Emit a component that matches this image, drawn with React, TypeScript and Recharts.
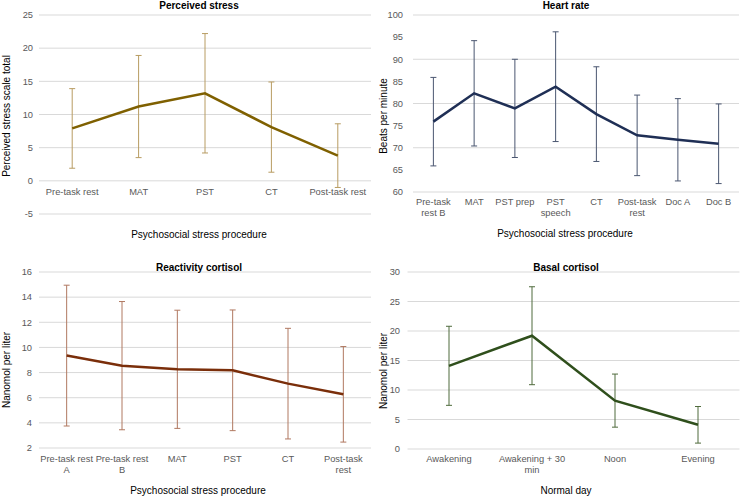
import { LineChart, Line, XAxis, YAxis, CartesianGrid, ErrorBar } from "recharts"

// Perceived stress
const stressSteps = ["Pre-task rest", "MAT", "PST", "CT", "Post-task rest"]
const stressMean = [7.9, 11.2, 13.2, 8.1, 3.8]
const stressSd = [6.0, 7.7, 9.0, 6.8, 4.8]
const stressTicks = [-5, 0, 5, 10, 15, 20, 25]

// Heart rate
const hrSteps = ["Pre-task\nrest B", "MAT", "PST prep", "PST\nspeech", "CT", "Post-task\nrest", "Doc A", "Doc B"]
const hrMean = [75.9, 82.3, 78.9, 83.8, 77.6, 72.8, 71.8, 70.9]
const hrSd = [10.0, 11.9, 11.1, 12.4, 10.7, 9.1, 9.3, 9.0]
const hrTicks = [60, 65, 70, 75, 80, 85, 90, 95, 100]

// Reactivity cortisol
const rcSteps = ["Pre-task rest\nA", "Pre-task rest\nB", "MAT", "PST", "CT", "Post-task\nrest"]
const rcMean = [9.35, 8.55, 8.26, 8.18, 7.12, 6.27]
const rcSd = [5.6, 5.1, 4.7, 4.8, 4.4, 3.8]
const rcTicks = [2, 4, 6, 8, 10, 12, 14, 16]

// Basal cortisol
const bcSteps = ["Awakening", "Awakening + 30\nmin", "Noon", "Evening"]
const bcMean = [14.1, 19.2, 8.2, 4.1]
const bcSd = [6.7, 8.3, 4.5, 3.1]
const bcTicks = [0, 5, 10, 15, 20, 25, 30]

const W = 740
const H = 497
const FONT = "'Liberation Sans', Arial, sans-serif"

type Panel = {
  title: string
  yLabel: string
  xLabel: string
  steps: string[]
  mean: number[]
  sd: number[]
  ticks: number[]
  plot: { x0: number; y0: number; x1: number; y1: number }
  tickGap: number
  xTickY: number
  titlePos: [number, number]
  yLabelPos: [number, number]
  xLabelPos: [number, number]
  line: string
  bar: string
}

const panels: Panel[] = [
  {
    title: "Perceived stress",
    yLabel: "Perceived  stress scale total",
    xLabel: "Psychosocial stress procedure",
    steps: stressSteps, mean: stressMean, sd: stressSd, ticks: stressTicks,
    plot: { x0: 39, y0: 15, x1: 371, y1: 214 },
    tickGap: 6, xTickY: 192,
    titlePos: [199, 5], yLabelPos: [6, 116], xLabelPos: [199, 234],
    line: "#7f6000", bar: "#b89c62",
  },
  {
    title: "Heart rate",
    yLabel: "Beats per minute",
    xLabel: "Psychosocial stress procedure",
    steps: hrSteps, mean: hrMean, sd: hrSd, ticks: hrTicks,
    plot: { x0: 413, y0: 15, x1: 739, y1: 192 },
    tickGap: 10, xTickY: 202,
    titlePos: [566, 5], yLabelPos: [383, 116], xLabelPos: [565, 233],
    line: "#1f2f55", bar: "#4a5670",
  },
  {
    title: "Reactivity cortisol",
    yLabel: "Nanomol  per liter",
    xLabel: "Psychosocial stress procedure",
    steps: rcSteps, mean: rcMean, sd: rcSd, ticks: rcTicks,
    plot: { x0: 39, y0: 272, x1: 371, y1: 448 },
    tickGap: 7, xTickY: 459,
    titlePos: [199, 267], yLabelPos: [6, 370], xLabelPos: [198, 490],
    line: "#7a2e0a", bar: "#b07860",
  },
  {
    title: "Basal cortisol",
    yLabel: "Nanomol per liter",
    xLabel: "Normal  day",
    steps: bcSteps, mean: bcMean, sd: bcSd, ticks: bcTicks,
    plot: { x0: 407.5, y0: 272, x1: 739.5, y1: 449 },
    tickGap: 7.5, xTickY: 459,
    titlePos: [566, 267], yLabelPos: [383, 371], xLabelPos: [566, 490],
    line: "#2f4f1c", bar: "#4f6b3c",
  },
]

function StepTick(props: any) {
  const { x, payload, lineY } = props
  const lines = String(payload.value).split("\n")
  return (
    <text x={x} y={lineY} textAnchor="middle" fill="#595959" fontSize={9.3} fontFamily={FONT} dominantBaseline="central">
      {lines.map((l, i) => (
        <tspan key={i} x={x} dy={i === 0 ? 0 : 10.8}>{l}</tspan>
      ))}
    </text>
  )
}

function PanelChart({ p }: { p: Panel }) {
  const data = p.steps.map((s, i) => ({ step: s, mean: p.mean[i], sd: p.sd[i] }))
  const yAxisW = 40
  const half = (p.plot.x1 - p.plot.x0) / (2 * p.steps.length)
  return (
    <div style={{ position: "absolute", left: 0, top: 0 }}>
      <LineChart
        width={W}
        height={H}
        data={data}
        margin={{ top: p.plot.y0, left: p.plot.x0 - yAxisW, right: W - p.plot.x1, bottom: H - p.plot.y1 - 10 }}
      >
        <CartesianGrid vertical={false} stroke="#d9d9d9" />
        <XAxis
          dataKey="step"
          height={10}
          axisLine={false}
          tickLine={false}
          interval={0}
          padding={{ left: half, right: half }}
          tick={<StepTick lineY={p.xTickY} />}
        />
        <YAxis
          width={yAxisW}
          domain={[p.ticks[0], p.ticks[p.ticks.length - 1]]}
          ticks={p.ticks}
          axisLine={false}
          tickLine={false}
          tickSize={0}
          tickMargin={p.tickGap}
          tick={{ fill: "#595959", fontSize: 9.3, fontFamily: FONT }}
        />
        <Line
          dataKey="mean"
          type="linear"
          stroke={p.line}
          strokeWidth={2.5}
          dot={false}
          isAnimationActive={false}
        >
          <ErrorBar dataKey="sd" width={3} stroke={p.bar} strokeWidth={1} direction="y" isAnimationActive={false} />
        </Line>
      </LineChart>
    </div>
  )
}

export default function App() {
  return (
    <div style={{ position: "absolute", left: 0, top: 0, width: W, height: H, background: "#fff", overflow: "hidden" }}>
      {panels.map((p) => (
        <PanelChart key={p.title} p={p} />
      ))}
      <svg width={W} height={H} style={{ position: "absolute", left: 0, top: 0, pointerEvents: "none" }}>
        {panels.map((p) => (
          <g key={p.title} fontFamily={FONT}>
            <text x={p.titlePos[0]} y={p.titlePos[1]} textAnchor="middle" dominantBaseline="central" fontSize={10} fontWeight="bold" fill="#000">
              {p.title}
            </text>
            <text
              x={p.yLabelPos[0]}
              y={p.yLabelPos[1]}
              textAnchor="middle"
              dominantBaseline="central"
              fontSize={10}
              fill="#000"
              transform={`rotate(-90 ${p.yLabelPos[0]} ${p.yLabelPos[1]})`}
            >
              {p.yLabel}
            </text>
            <text x={p.xLabelPos[0]} y={p.xLabelPos[1]} textAnchor="middle" dominantBaseline="central" fontSize={10} fill="#000">
              {p.xLabel}
            </text>
          </g>
        ))}
      </svg>
    </div>
  )
}
